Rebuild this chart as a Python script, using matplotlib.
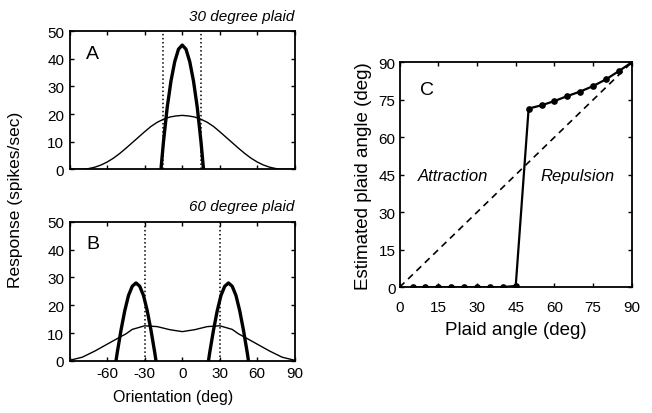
"""Plaid orientation tuning curves (A, B) and estimated plaid angle (C)."""

import matplotlib

matplotlib.use("Agg")
import matplotlib.pyplot as plt  # noqa: E402

plt.rcParams["font.family"] = ["Liberation Sans", "DejaVu Sans"]

# Panel A: 30 degree plaid
a_broad_x = [-90, -85, -80, -75, -70, -65, -60, -55, -50, -45, -40, -35, -30, -25, -20,
             -15, -10, -5, 0, 5, 10, 15, 20, 25, 30, 35, 40, 45, 50, 55, 60, 65, 70,
             75, 80, 85, 90]
a_broad_y = [0.0, 0.0, 0.0, 0.2, 0.7, 1.5, 2.6, 4.0, 5.7, 7.6, 9.6, 11.6, 13.6, 15.5,
             17.0, 18.1, 18.9, 19.3, 19.5, 19.3, 18.9, 18.1, 17.0, 15.5, 13.6, 11.6,
             9.6, 7.6, 5.7, 4.0, 2.6, 1.5, 0.7, 0.2, 0.0, 0.0, 0.0]
a_narrow_x = [-17, -15, -12, -9, -6, -3, 0, 3, 6, 9, 12, 15, 17]
a_narrow_y = [0, 10, 22.5, 32, 39, 43.5, 45, 43.5, 39, 32, 22.5, 10, 0]
a_dotted = [-15, 15]

# Panel B: 60 degree plaid
b_broad_x = [-90, -80, -70, -60, -50, -45, -40, -30, -20, -10, 0, 10, 20, 30, 40, 45,
             50, 60, 70, 80, 90]
b_broad_y = [0.2, 1.3, 3.5, 6.0, 8.5, 9.7, 11.3, 12.6, 12.3, 11.2, 10.5, 11.2, 12.3,
             12.6, 11.3, 9.7, 8.5, 6.0, 3.5, 1.3, 0.2]
b_left_x = [-53, -52, -49, -46, -43, -40, -37, -34, -31, -28, -25, -22, -21]
b_left_y = [0, 3, 11, 18, 23.5, 26.8, 28, 26.8, 23.5, 18, 11, 3, 0]
b_right_x = [21, 22, 25, 28, 31, 34, 37, 40, 43, 46, 49, 52, 53]
b_right_y = [0, 3, 11, 18, 23.5, 26.8, 28, 26.8, 23.5, 18, 11, 3, 0]
b_dotted = [-30, 30]

orient_ticks = [-60, -30, 0, 30, 60, 90]
resp_ticks = [0, 10, 20, 30, 40, 50]

# Panel C: estimated vs actual plaid angle
plaid_angle = [5, 10, 15, 20, 25, 30, 35, 40, 45, 50, 55, 60, 65, 70, 75, 80, 85, 90]
estimated = [0, 0, 0, 0, 0, 0, 0, 0, 0.5, 71.5, 72.8, 74.5, 76.5, 78.3, 80.5,
             83.2, 86.5, 90]
angle_ticks = [0, 15, 30, 45, 60, 75, 90]


def style_axes(ax):
    for s in ax.spines.values():
        s.set_linewidth(1.3)
    ax.tick_params(direction="in", top=True, right=True, length=3, width=1,
                   labelsize=11, pad=4)


fig = plt.figure(figsize=(6.52, 4.14), dpi=100)

ax_a = fig.add_axes([0.107, 0.589, 0.345, 0.333])
ax_b = fig.add_axes([0.107, 0.126, 0.345, 0.336])
ax_c = fig.add_axes([0.613, 0.304, 0.356, 0.543])

for ax, broad, narrows, dots, label, title in [
    (ax_a, (a_broad_x, a_broad_y), [(a_narrow_x, a_narrow_y)], a_dotted, "A",
     "30 degree plaid"),
    (ax_b, (b_broad_x, b_broad_y), [(b_left_x, b_left_y), (b_right_x, b_right_y)],
     b_dotted, "B", "60 degree plaid"),
]:
    ax.plot(*broad, color="black", lw=1.0)
    for nx, ny in narrows:
        ax.plot(nx, ny, color="black", lw=2.4, solid_capstyle="butt")
    for d in dots:
        ax.axvline(d, color="black", ls=":", lw=1.1)
    ax.set_xlim(-90, 90)
    ax.set_ylim(0, 50)
    ax.set_xticks([-90] + orient_ticks)
    ax.set_yticks(resp_ticks)
    ax.text(-77, 42, label, fontsize=14, va="center", ha="left")
    ax.text(1.0, 1.06, title, transform=ax.transAxes, ha="right", va="bottom",
            fontsize=11, style="italic")
    style_axes(ax)

ax_a.set_xticklabels([])
ax_b.set_xticklabels([""] + [str(t) for t in orient_ticks])
ax_b.set_xlabel("Orientation (deg)", fontsize=11.5, labelpad=6)
ax_b.xaxis.set_label_coords(0.46, -0.2)
fig.text(0.024, 0.517, "Response (spikes/sec)", rotation=90, ha="center",
         va="center", fontsize=12.5)

ax_c.plot([0, 90], [0, 90], color="black", ls=(0, (4, 3)), lw=1.2)
ax_c.plot(plaid_angle, estimated, color="black", lw=1.6, marker="o", ms=3.8)
ax_c.set_xlim(0, 90)
ax_c.set_ylim(0, 90)
ax_c.set_xticks(angle_ticks)
ax_c.set_yticks(angle_ticks)
ax_c.set_xlabel("Plaid angle (deg)", fontsize=13.5, labelpad=5)
ax_c.set_ylabel("Estimated plaid angle (deg)", fontsize=13.5, labelpad=5)
ax_c.text(8, 79, "C", fontsize=14, va="center", ha="left")
ax_c.text(20.5, 44.5, "Attraction", fontsize=12, style="italic", ha="center",
          va="center")
ax_c.text(69, 44.5, "Repulsion", fontsize=12, style="italic", ha="center", va="center")
style_axes(ax_c)
ax_c.tick_params(axis="x", pad=9)
ax_c.tick_params(axis="y", pad=3)

fig.savefig("out.png", dpi=100)
plt.close(fig)
